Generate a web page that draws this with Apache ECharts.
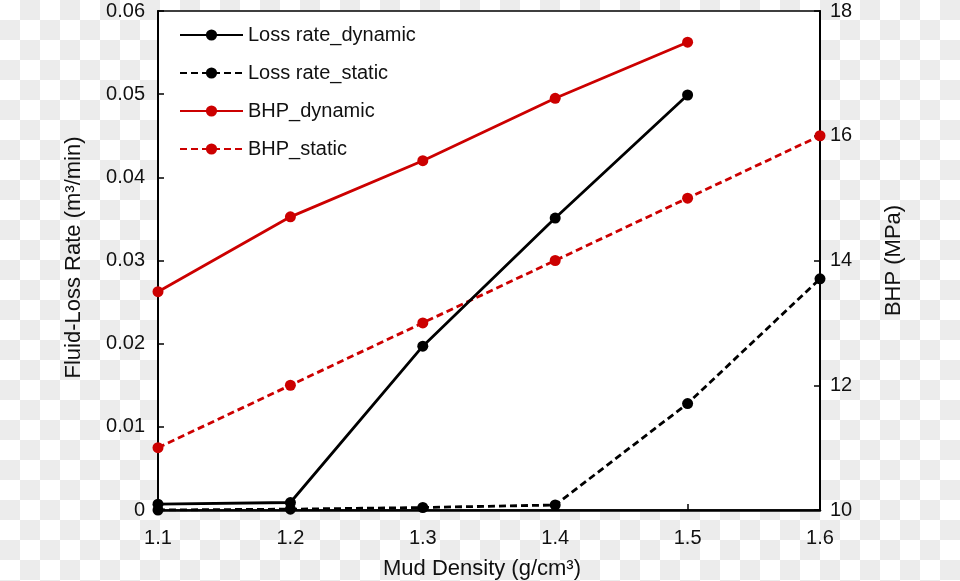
<!DOCTYPE html>
<html>
<head>
<meta charset="utf-8">
<script src="https://cdn.jsdelivr.net/npm/echarts@6/dist/echarts.min.js"></script>
<style>
html,body{margin:0;padding:0;}
body{background:repeating-conic-gradient(#ececec 0 25%, #ffffff 0 50%) 0 0/40px 40px;}
#chart{width:960px;height:581px;}
</style>
</head>
<body>
<div id="chart"></div>
<script>
const densities = ['1.1','1.2','1.3','1.4','1.5','1.6'];
const lossDynamic = [0.0007, 0.0009, 0.0197, 0.0351, 0.0499];
const lossStatic = [0.0000, 0.0001, 0.0003, 0.0006, 0.0128, 0.0278];
const bhpDynamic = [13.5, 14.7, 15.6, 16.6, 17.5];
const bhpStatic = [11.0, 12.0, 13.0, 14.0, 15.0, 16.0];
const leftTicks = {min: 0, max: 0.06, interval: 0.01};
const rightTicks = {min: 10, max: 18, interval: 2};

const RED = '#cc0000';
const BLACK = '#000000';
const FONT = 'Liberation Sans, Arial, Helvetica, sans-serif';

const chart = echarts.init(document.getElementById('chart'));
function mk(name, data, color, dashed, yIdx) {
  return {
    name, type: 'line', data, yAxisIndex: yIdx,
    symbol: 'circle', symbolSize: 11,
    itemStyle: {color},
    lineStyle: {color, width: 2.8, type: dashed ? [7, 4] : 'solid'},
    z: color === BLACK ? 3 : 2
  };
}
chart.setOption({
  animation: false,
  backgroundColor: 'transparent',
  textStyle: {fontFamily: FONT},
  grid: {left: 158, right: 140, top: 11, bottom: 71, show: true, containLabel: false,
         outerBoundsMode: 'none',
         backgroundColor: '#ffffff', borderColor: '#000', borderWidth: 1.5},
  legend: {
    orient: 'vertical', left: 174, top: 20, itemWidth: 63, itemHeight: 14, itemGap: 18,
    textStyle: {fontSize: 20, color: '#111', fontFamily: FONT},
    data: ['Loss rate_dynamic', 'Loss rate_static', 'BHP_dynamic', 'BHP_static']
  },
  xAxis: {
    type: 'category', data: densities, boundaryGap: false,
    name: 'Mud Density (g/cm³)', nameLocation: 'middle', nameGap: 48,
    nameTextStyle: {fontSize: 22, color: '#111', fontFamily: FONT, padding: [0, 14, 0, 0]},
    axisLine: {lineStyle: {color: '#000', width: 2.5}},
    axisTick: {inside: true, length: 6, lineStyle: {color: '#000', width: 1.5}},
    axisLabel: {fontSize: 20, color: '#111', margin: 18, fontFamily: FONT},
    splitLine: {show: false}
  },
  yAxis: [{
    type: 'value', min: leftTicks.min, max: leftTicks.max, interval: leftTicks.interval,
    name: 'Fluid-Loss Rate (m³/min)', nameLocation: 'middle', nameGap: 73,
    nameTextStyle: {fontSize: 22, color: '#111', fontFamily: FONT, padding: [0, 0, 0, 6]},
    axisLine: {show: true, lineStyle: {color: '#000', width: 2}},
    axisTick: {show: true, inside: true, length: 6, lineStyle: {color: '#000', width: 1.5}},
    axisLabel: {fontSize: 20, color: '#111', margin: 13, fontFamily: FONT,
      formatter: v => v === 0 ? '0' : v.toFixed(2)},
    splitLine: {show: false}
  }, {
    type: 'value', min: rightTicks.min, max: rightTicks.max, interval: rightTicks.interval,
    position: 'right',
    name: 'BHP (MPa)', nameLocation: 'middle', nameGap: 63, nameRotate: 90,
    nameTextStyle: {fontSize: 22, color: '#111', fontFamily: FONT},
    axisLine: {show: true, lineStyle: {color: '#000', width: 2}},
    axisTick: {show: true, inside: true, length: 6, lineStyle: {color: '#000', width: 1.5}},
    axisLabel: {fontSize: 20, color: '#111', margin: 10, fontFamily: FONT},
    splitLine: {show: false}
  }],
  series: [
    mk('Loss rate_dynamic', lossDynamic, BLACK, false, 0),
    mk('Loss rate_static', lossStatic, BLACK, true, 0),
    mk('BHP_dynamic', bhpDynamic, RED, false, 1),
    mk('BHP_static', bhpStatic, RED, true, 1)
  ]
});
</script>
</body>
</html>
